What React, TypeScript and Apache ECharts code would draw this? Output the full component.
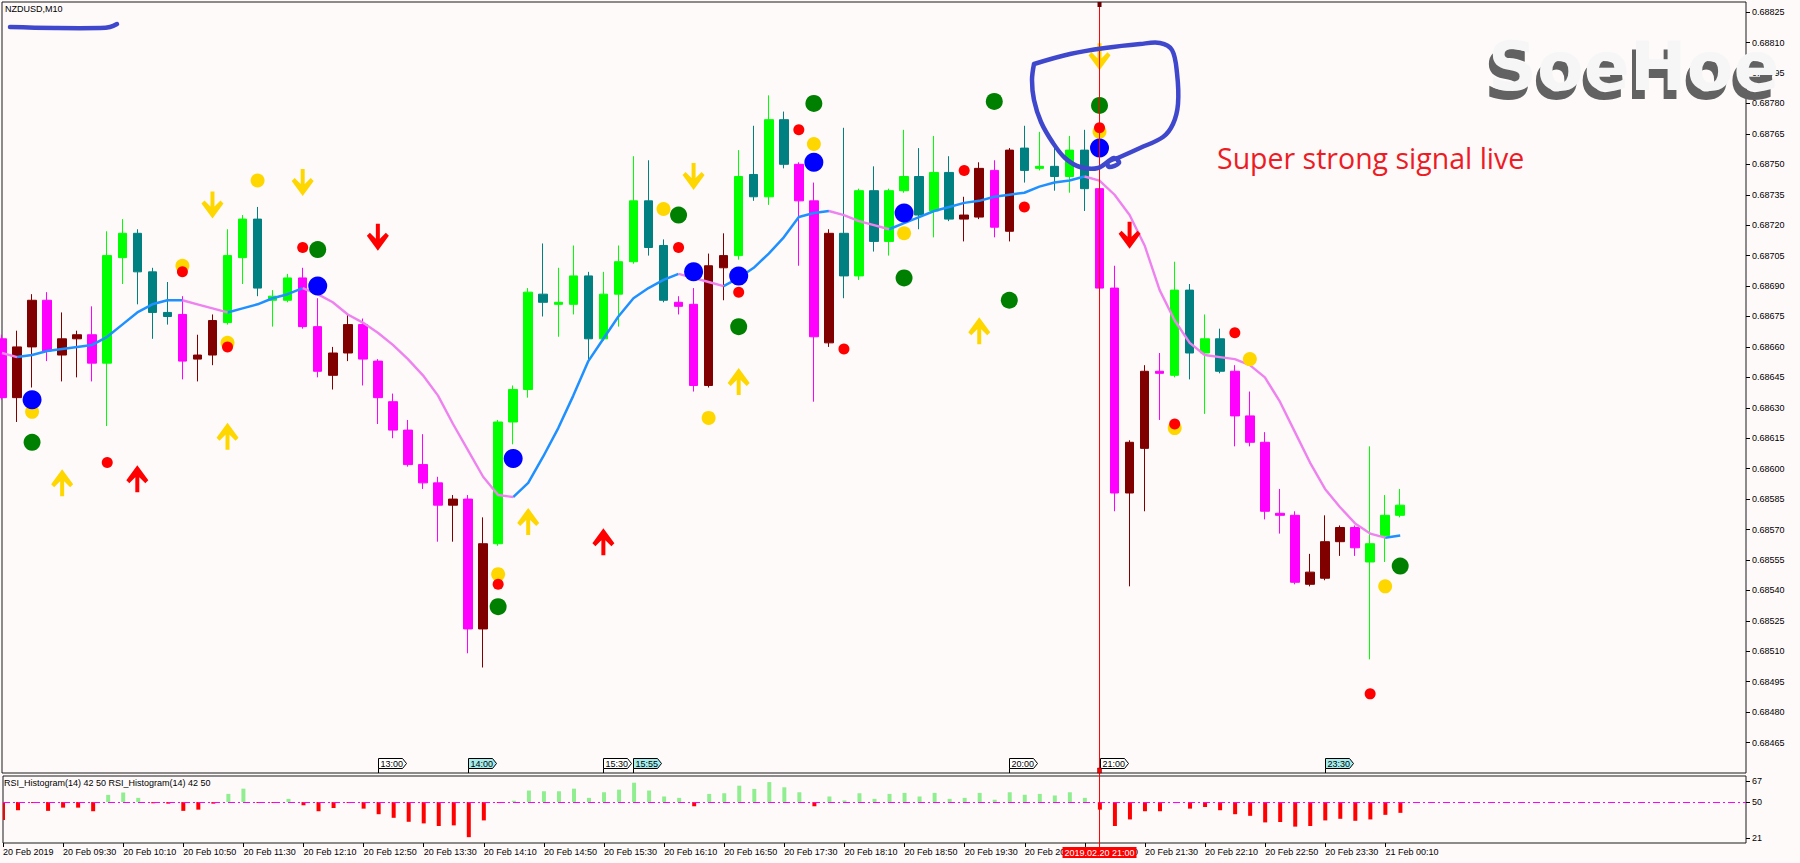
import React, { useEffect, useRef } from "react";
import * as echarts from "echarts";

// ---------- data ----------
const timeLabels = [
  "20 Feb 2019", "20 Feb 09:30", "20 Feb 10:10", "20 Feb 10:50", "20 Feb 11:30", "20 Feb 12:10",
  "20 Feb 12:50", "20 Feb 13:30", "20 Feb 14:10", "20 Feb 14:50", "20 Feb 15:30", "20 Feb 16:10",
  "20 Feb 16:50", "20 Feb 17:30", "20 Feb 18:10", "20 Feb 18:50", "20 Feb 19:30", "20 Feb 20:10",
  "20 Feb 20:50", "20 Feb 21:30", "20 Feb 22:10", "20 Feb 22:50", "20 Feb 23:30", "21 Feb 00:10",
];
const labelBars = [0, 4, 8, 12, 16, 20, 24, 28, 32, 36, 40, 44, 48, 52, 56, 60, 64, 68, 72, 76, 80, 84, 88, 92];

const opens = [
  0.68664, 0.68635, 0.6866, 0.68683, 0.68656, 0.68664, 0.68666, 0.68652, 0.68704, 0.68716,
  0.68697, 0.68677, 0.68676, 0.68654, 0.68656, 0.68672, 0.68704, 0.68723, 0.68683, 0.68683,
  0.68694, 0.6867, 0.68646, 0.68657, 0.68671, 0.68653, 0.68633, 0.68619, 0.68602, 0.68593,
  0.68582, 0.68585, 0.68521, 0.68563, 0.68623, 0.68639, 0.68686, 0.68681, 0.68681, 0.68695,
  0.68664, 0.68686, 0.68702, 0.68732, 0.6871, 0.68682, 0.68681, 0.68641, 0.68699, 0.68705,
  0.68745, 0.68734, 0.68772, 0.6875, 0.68732, 0.68662, 0.68716, 0.68695, 0.68737, 0.68712,
  0.68737, 0.68744, 0.68727, 0.68746, 0.68723, 0.68724, 0.68747, 0.68717, 0.68758, 0.68748,
  0.68749, 0.68744, 0.68757, 0.68738, 0.68689, 0.68588, 0.6861, 0.68648, 0.68646, 0.68688,
  0.68657, 0.68664, 0.68648, 0.68626, 0.68613, 0.68578, 0.68577, 0.68543, 0.68546, 0.68564,
  0.68571, 0.68554, 0.68567, 0.68577,
];
const closes = [
  0.68635, 0.6866, 0.68683, 0.68658, 0.68664, 0.68666, 0.68652, 0.68705, 0.68716, 0.68697,
  0.68677, 0.68675, 0.68653, 0.68656, 0.68673, 0.68705, 0.68723, 0.68689, 0.68685, 0.68694,
  0.6867, 0.68648, 0.68657, 0.68671, 0.68654, 0.68635, 0.68619, 0.68602, 0.68593, 0.68582,
  0.68585, 0.68521, 0.68563, 0.68623, 0.68639, 0.68687, 0.68682, 0.68682, 0.68695, 0.68664,
  0.68686, 0.68702, 0.68732, 0.68709, 0.68683, 0.6868, 0.68641, 0.687, 0.68705, 0.68744,
  0.68734, 0.68772, 0.6875, 0.68732, 0.68665, 0.68716, 0.68695, 0.68737, 0.68712, 0.68737,
  0.68744, 0.68725, 0.68746, 0.68723, 0.68725, 0.68748, 0.68719, 0.68757, 0.68747, 0.68749,
  0.68744, 0.68757, 0.68738, 0.68689, 0.68588, 0.68613, 0.68648, 0.68647, 0.68688, 0.68657,
  0.68664, 0.68648, 0.68626, 0.68613, 0.68579, 0.68577, 0.68544, 0.68549, 0.68564, 0.68571,
  0.68561, 0.68563, 0.68577, 0.68582,
];
const highs = [
  0.68666, 0.68668, 0.68686, 0.68687, 0.68677, 0.68668, 0.6868, 0.68717, 0.68723, 0.68718,
  0.68699, 0.68692, 0.68685, 0.68666, 0.68676, 0.68718, 0.68725, 0.68729, 0.68688, 0.68696,
  0.68699, 0.68684, 0.6866, 0.68676, 0.68674, 0.68654, 0.68637, 0.68624, 0.68617, 0.68596,
  0.68587, 0.68587, 0.68576, 0.68624, 0.68641, 0.68689, 0.68711, 0.68699, 0.6871, 0.68697,
  0.68697, 0.6871, 0.68754, 0.68752, 0.68713, 0.68685, 0.68689, 0.68706, 0.68716, 0.68757,
  0.68769, 0.68784, 0.68776, 0.68751, 0.68741, 0.68718, 0.68768, 0.68738, 0.68749, 0.68738,
  0.68767, 0.68758, 0.68764, 0.68754, 0.68734, 0.68751, 0.68752, 0.68758, 0.68769, 0.68766,
  0.6876, 0.68764, 0.68767, 0.68739, 0.687, 0.68614, 0.68651, 0.68657, 0.68702, 0.68691,
  0.68676, 0.68669, 0.68651, 0.68638, 0.68618, 0.6859, 0.68579, 0.68558, 0.68577, 0.68572,
  0.68572, 0.68611, 0.68587, 0.6859,
];
const lows = [
  0.68634, 0.68623, 0.6864, 0.68653, 0.68643, 0.68645, 0.68643, 0.68621, 0.68691, 0.68681,
  0.68664, 0.68671, 0.68644, 0.68643, 0.68651, 0.68671, 0.68691, 0.68685, 0.6867, 0.68682,
  0.68669, 0.68645, 0.68639, 0.68653, 0.68641, 0.68622, 0.68615, 0.68601, 0.6859, 0.68564,
  0.68564, 0.68509, 0.68502, 0.68562, 0.68612, 0.68635, 0.68675, 0.68665, 0.68676, 0.68653,
  0.68663, 0.6867, 0.68701, 0.68705, 0.68682, 0.68676, 0.68638, 0.6864, 0.68683, 0.68703,
  0.68732, 0.6873, 0.68748, 0.687, 0.68633, 0.6866, 0.68684, 0.68693, 0.68707, 0.68705,
  0.68736, 0.68718, 0.68714, 0.68722, 0.68712, 0.68723, 0.68714, 0.68712, 0.68741, 0.68747,
  0.68737, 0.68736, 0.68727, 0.68687, 0.68579, 0.68542, 0.68579, 0.68624, 0.68645, 0.68644,
  0.68627, 0.68647, 0.68611, 0.68611, 0.68575, 0.68568, 0.68543, 0.68542, 0.68545, 0.68557,
  0.68557, 0.68506, 0.68554, 0.68576,
];
// indicator regime per bar: U = up regime, D = down regime
const trend =
  "DDDDDDDUUU" + "UUDDDUUUUU" + "DDDDDDDDDD" + "DDDUUUUUUU" + "UUUUUDDDDU" +
  "UUUDDDUUUU" + "UUUUDDDDUU" + "UUUDDDDDUU" + "UUDDDDDDDD" + "DUUU";

const maValues = [
  0.68657, 0.68655, 0.68656, 0.68658, 0.68659, 0.6866, 0.68661, 0.68665, 0.68671, 0.68677,
  0.68681, 0.68683, 0.68683, 0.68681, 0.68679, 0.68677, 0.68679, 0.68681, 0.68684, 0.68686,
  0.68689, 0.68686, 0.68682, 0.68676, 0.68672, 0.68667, 0.68661, 0.68654, 0.68646, 0.68636,
  0.68622, 0.68609, 0.68596, 0.68587, 0.68586, 0.68593, 0.68606, 0.6862, 0.68636, 0.68653,
  0.68664, 0.68675, 0.68684, 0.68689, 0.68693, 0.68696, 0.68694, 0.68692, 0.6869, 0.68694,
  0.68699, 0.68706, 0.68714, 0.68724, 0.68726, 0.68727, 0.68725, 0.68722, 0.6872, 0.68718,
  0.68721, 0.68724, 0.68727, 0.68729, 0.68731, 0.68732, 0.68734, 0.68735, 0.68736, 0.68739,
  0.68741, 0.68742, 0.68744, 0.68742, 0.68735, 0.68725, 0.6871, 0.68688, 0.68673, 0.68662,
  0.68656, 0.68655, 0.68654, 0.68651, 0.68645, 0.68633, 0.68618, 0.68603, 0.6859, 0.68581,
  0.68573, 0.68568, 0.68566, 0.68567,
];

const rsiValues = [
  35.5, 43.4, 49.5, 42.9, 45.5, 45.5, 42.6, 55.8, 57.7, 53.4,
  49, 48.7, 42.9, 43.9, 48.7, 56.6, 60.8, 49.5, 49.5, 52.6,
  47.4, 42.6, 45.2, 49.2, 44.7, 40.2, 37.3, 34.1, 32.8, 30.7,
  31.2, 21.7, 35.2, 49.2, 51, 59.3, 58.7, 58.7, 60.8, 53.4,
  57.9, 60, 65.6, 59.3, 54.5, 53.4, 46.6, 56.6, 57.1, 63.2,
  60.6, 66.1, 61.9, 57.9, 46.6, 54.5, 51.3, 57.1, 52.6, 56.6,
  57.4, 54.5, 57.4, 52.6, 53.4, 57.4, 51.9, 57.9, 55.8, 56.6,
  55.3, 57.9, 53.4, 43.9, 30.7, 36, 42.6, 42.6, 49.2, 44.7,
  46, 43.4, 40.2, 38.9, 33.6, 33.9, 30.2, 30.7, 35.2, 36.5,
  34.9, 36, 39.7, 41.3,
];
const rsiLevels = [21, 50, 67];

const goldDots = [[2, 0.68628], [12, 0.687], [15, 0.68662], [17, 0.68742], [33, 0.68548], [44, 0.68728], [47, 0.68625], [54, 0.6876], [60, 0.68716], [73, 0.68766], [78, 0.6862], [83, 0.68654], [92, 0.68542]];
const redDots = [[7, 0.68603], [12, 0.68697], [15, 0.6866], [20, 0.68709], [33, 0.68543], [45, 0.68709], [49, 0.68687], [53, 0.68767], [56, 0.68659], [64, 0.68747], [68, 0.68729], [73, 0.68768], [78, 0.68622], [82, 0.68667], [91, 0.68489]];
const greenDots = [[2, 0.68613], [21, 0.68708], [33, 0.68532], [45, 0.68725], [49, 0.6867], [54, 0.6878], [60, 0.68694], [66, 0.68781], [67, 0.68683], [73, 0.68779], [93, 0.68552]];
const blueDots = [[2, 0.68634], [21, 0.6869], [34, 0.68605], [46, 0.68697], [49, 0.68695], [54, 0.68751], [60, 0.68726], [73, 0.68758]];
const goldUpArrows = [[4, 0.68593], [15, 0.68616], [35, 0.68574], [49, 0.68643], [65, 0.68668]];
const redUpArrows = [[9, 0.68595], [40, 0.68564]];
const goldDownArrows = [[14, 0.6873], [20, 0.68741], [46, 0.68744], [73, 0.68803]];
const redDownArrows = [[25, 0.68714], [75, 0.68715]];

const flagBars = [25, 31, 40, 42, 67, 73, 88];
const flagLabels = ["13:00", "14:00", "15:30", "15:55", "20:00", "21:00", "23:30"];
const flagHighlighted = [false, true, false, true, false, false, true];

const signalBar = 73;
const signalLabel = "2019.02.20 21:00";
const lastPrice = 0.68582;

const PRICE_MIN = 0.6845;
const PRICE_MAX = 0.6883;
const PRICE_STEP = 0.00015;
const RSI_MIN = 17;
const RSI_MAX = 71;
const X_MAX = 116;

// ---------- styles ----------
const BG = "#FFFAFA";
const LIME = "#00FF00";
const TEAL = "#008080";
const MAGENTA = "#FF00FF";
const MAROON = "#800000";
const FONT = "Liberation Sans";
const ARROW_DOWN = "path://M9,0 L13,0 L13,15 L19,9 L22,12 L11,27 L0,12 L3,9 L9,15 Z";
const ARROW_UP = "path://M9,27 L13,27 L13,12 L19,18 L22,15 L11,0 L0,15 L3,18 L9,12 Z";

function candleColor(i: number) {
  const bull = closes[i] >= opens[i];
  if (trend[i] === "U") return bull ? LIME : TEAL;
  return bull ? MAROON : MAGENTA;
}

export default function App() {
  const ref = useRef<HTMLDivElement>(null);

  useEffect(() => {
    if (!ref.current) return;
    const chart = echarts.init(ref.current, null, { renderer: "svg" });
    const n = maValues.length;

    const candles = opens.map((o, i) => {
      const c = candleColor(i);
      return {
        value: [i, o, closes[i], lows[i], highs[i]],
        itemStyle: { color: c, color0: c, borderColor: c, borderColor0: c, borderWidth: 1 },
      };
    });

    const maRise = maValues.map((v, i) => {
      const prev = i > 0 && v >= maValues[i - 1];
      const next = i < n - 1 && maValues[i + 1] >= v;
      return [i, prev || next ? v : null];
    });
    const maFall = maValues.map((v, i) => {
      const prev = i > 0 && v < maValues[i - 1];
      const next = i < n - 1 && maValues[i + 1] < v;
      return [i, prev || next ? v : null];
    });

    const dot = (name: string, data: number[][], color: string, size: number, z: number) => ({
      name, type: "scatter", xAxisIndex: 0, yAxisIndex: 0, data, symbol: "circle", symbolSize: size,
      itemStyle: { color, opacity: 1 }, z, silent: true,
    });
    const arrow = (name: string, data: number[][], color: string, path: string) => ({
      name, type: "scatter", xAxisIndex: 0, yAxisIndex: 0, data, symbol: path, symbolSize: [22, 27],
      itemStyle: { color, opacity: 1 }, z: 4, silent: true,
    });

    const option: any = {
      animation: false,
      backgroundColor: BG,
      grid: [
        { left: 2, top: 2, right: 54, height: 771, show: true, borderColor: "#1a1a1a", borderWidth: 1, backgroundColor: "transparent" },
        { left: 2, top: 776, right: 54, height: 67, show: true, borderColor: "#1a1a1a", borderWidth: 1, backgroundColor: "transparent" },
      ],
      xAxis: [
        { gridIndex: 0, type: "value", min: 0, max: X_MAX, show: false, splitLine: { show: false }, axisLine: { onZero: false } },
        {
          gridIndex: 1, type: "value", min: 0, max: X_MAX,
          axisLine: { show: false, onZero: false },
          splitLine: { show: false },
          axisTick: { show: true, customValues: labelBars, length: 4, lineStyle: { color: "#000" } },
          axisLabel: {
            customValues: labelBars,
            formatter: (v: number) => {
              const k = labelBars.indexOf(Math.round(v));
              return k >= 0 ? timeLabels[k] : "";
            },
            align: "left", margin: 4, fontSize: 9, fontFamily: FONT, color: "#000",
          },
        },
      ],
      yAxis: [
        {
          gridIndex: 0, type: "value", position: "right", min: PRICE_MIN, max: PRICE_MAX, interval: PRICE_STEP,
          axisLine: { show: false, onZero: false },
          splitLine: { show: false },
          axisTick: { show: true, length: 4, lineStyle: { color: "#000" } },
          axisLabel: {
            showMinLabel: false, showMaxLabel: false, margin: 6, fontSize: 9, fontFamily: FONT, color: "#000",
            formatter: (v: number) => v.toFixed(5),
          },
        },
        {
          gridIndex: 1, type: "value", position: "right", min: RSI_MIN, max: RSI_MAX,
          axisLine: { show: false, onZero: false },
          splitLine: { show: false },
          axisTick: { show: true, customValues: rsiLevels, length: 4, lineStyle: { color: "#000" } },
          axisLabel: { customValues: rsiLevels, margin: 6, fontSize: 9, fontFamily: FONT, color: "#000" },
        },
      ],
      series: [
        {
          name: "NZDUSD", type: "candlestick", xAxisIndex: 0, yAxisIndex: 0, data: candles,
          encode: { x: 0, y: [1, 2, 3, 4] }, barWidth: 9, z: 2, silent: true,
          markLine: {
            silent: true, symbol: ["none", "none"], animation: false,
            lineStyle: { color: "#8E9CB4", width: 1, type: "solid" },
            label: {
              show: true, position: "end", distance: 7, formatter: () => lastPrice.toFixed(5),
              backgroundColor: "#7D8DA3", color: "#F4F6FA", padding: [1, 3, 0, 3], fontSize: 9, fontFamily: FONT,
            },
            data: [{ yAxis: lastPrice }],
          },
        },
        { name: "MA up", type: "line", xAxisIndex: 0, yAxisIndex: 0, data: maRise, showSymbol: false, connectNulls: false, lineStyle: { color: "#1E90FF", width: 2.5 }, z: 3, silent: true },
        { name: "MA down", type: "line", xAxisIndex: 0, yAxisIndex: 0, data: maFall, showSymbol: false, connectNulls: false, lineStyle: { color: "#EE82EE", width: 2.4 }, z: 3, silent: true },
        dot("gold", goldDots, "#FFD700", 14, 4),
        dot("red", redDots, "#FF0000", 11, 5),
        dot("green", greenDots, "#008000", 17, 6),
        dot("blue", blueDots, "#0000FF", 19, 7),
        arrow("gold up", goldUpArrows, "#FFD700", ARROW_UP),
        arrow("red up", redUpArrows, "#FF0000", ARROW_UP),
        arrow("gold down", goldDownArrows, "#FFD700", ARROW_DOWN),
        arrow("red down", redDownArrows, "#FF0000", ARROW_DOWN),
        {
          name: "RSI", type: "custom", xAxisIndex: 1, yAxisIndex: 1, clip: true, silent: true,
          data: rsiValues.map((v, i) => [i, v]),
          encode: { x: 0, y: 1 },
          renderItem: (_p: any, api: any) => {
            const i = api.value(0);
            const v = api.value(1);
            const b = api.coord([i, 50]);
            const t = api.coord([i, v]);
            return {
              type: "rect",
              shape: { x: b[0] - 2, y: Math.min(b[1], t[1]), width: 4, height: Math.max(1, Math.abs(t[1] - b[1])) },
              style: { fill: v > 50 ? "#90EE90" : "#FF0000" },
            };
          },
          markLine: {
            silent: true, symbol: ["none", "none"], animation: false,
            lineStyle: { color: "#FF00FF", width: 1, type: [7, 3, 2, 3] },
            label: { show: false },
            data: [{ yAxis: 50 }],
          },
          z: 2,
        },
      ],
    };

    chart.setOption(option);

    const px = (i: number) => chart.convertToPixel({ xAxisIndex: 0 }, i) as number;
    const py = (p: number) => chart.convertToPixel({ yAxisIndex: 0 }, p) as number;
    const mainBottom = py(PRICE_MIN);
    const mainTop = py(PRICE_MAX);
    const rsiBottom = chart.convertToPixel({ yAxisIndex: 1 }, RSI_MIN) as number;
    const xs = px(signalBar);

    const g: any[] = [];
    flagBars.forEach((b, k) => {
      const x = Math.round(px(b)) + 0.5;
      const t = mainBottom - 14.5;
      const bt = mainBottom - 4.5;
      g.push({
        type: "polygon", z: 90,
        shape: { points: [[x, t], [x + 24, t], [x + 28, (t + bt) / 2], [x + 24, bt], [x, bt]] },
        style: { fill: flagHighlighted[k] ? "#A6ECEC" : "#FFFFFF", stroke: "#000", lineWidth: 1 },
      });
      g.push({ type: "line", z: 90, shape: { x1: x, y1: bt, x2: x, y2: mainBottom }, style: { stroke: "#000", lineWidth: 1 } });
      g.push({
        type: "text", z: 91, x: x + 2, y: (t + bt) / 2,
        style: { text: flagLabels[k], fontSize: 9, fontFamily: FONT, fill: "#000", verticalAlign: "middle", align: "left" },
      });
    });

    // signal bar vertical line and time box
    g.push({ type: "line", z: 95, shape: { x1: xs, y1: mainTop, x2: xs, y2: rsiBottom + 4 }, style: { stroke: "#FF0000", lineWidth: 1 } });
    g.push({ type: "rect", z: 96, shape: { x: xs - 2, y: mainTop, width: 4, height: 5 }, style: { fill: "#6A0000" } });
    g.push({ type: "rect", z: 96, shape: { x: xs - 2, y: mainBottom - 5, width: 4, height: 5 }, style: { fill: "#FF0000", stroke: "#600000", lineWidth: 0.5 } });
    g.push({ type: "rect", z: 96, shape: { x: xs - 37, y: rsiBottom + 4, width: 74, height: 11 }, style: { fill: "#FF0000" } });
    g.push({
      type: "text", z: 97, x: xs, y: rsiBottom + 9.5,
      style: { text: signalLabel, fontSize: 9, fontFamily: FONT, fill: "#FFFFFF", align: "center", verticalAlign: "middle" },
    });

    // titles
    g.push({ type: "text", z: 90, x: 5, y: 9, style: { text: "NZDUSD,M10", fontSize: 9, fontFamily: FONT, fill: "#000", verticalAlign: "middle" } });
    g.push({
      type: "text", z: 90, x: 4, y: 783,
      style: { text: "RSI_Histogram(14) 42 50 RSI_Histogram(14) 42 50", fontSize: 9, fontFamily: FONT, fill: "#000", verticalAlign: "middle" },
    });

    // hand-drawn annotations
    g.push({
      type: "polyline", z: 100,
      shape: { points: [[10, 27], [55, 28], [100, 28], [110, 27], [117, 24]], smooth: 0.4 },
      style: { stroke: "#3F48CC", lineWidth: 4.5, lineCap: "round", fill: null },
    });
    g.push({
      type: "polyline", z: 100,
      shape: {
        points: [
          [1034, 64], [1070, 54], [1105, 48], [1140, 44], [1160, 43], [1172, 50], [1177, 73], [1178, 104],
          [1173, 124], [1163, 137], [1140, 148], [1120, 157], [1108, 162], [1109, 167], [1119, 163], [1114, 158],
          [1098, 168], [1080, 167], [1065, 158], [1053, 143], [1041, 122], [1034, 100], [1032, 80], [1034, 64],
        ],
        smooth: 0.35,
      },
      style: { stroke: "#3F48CC", lineWidth: 4.5, lineCap: "round", lineJoin: "round", fill: null },
    });

    g.push({
      type: "text", z: 100, x: 1217, y: 158,
      style: { text: "Super strong signal live", fontSize: 28.5, fontFamily: "Open Sans", fill: "#ED1C24", verticalAlign: "middle" },
    });

    // watermark logo
    g.push({
      type: "text", z: 110, x: 1484, y: 75,
      style: { text: "SoeHoe", fontSize: 68, fontWeight: "bold", fontFamily: "DejaVu Sans", fill: "#626262", verticalAlign: "middle" },
    });
    g.push({
      type: "text", z: 111, x: 1488, y: 66,
      style: { text: "SoeHoe", fontSize: 68, fontWeight: "bold", fontFamily: "DejaVu Sans", fill: "#F6F6F6", verticalAlign: "middle" },
    });

    chart.setOption({ graphic: g });

    return () => chart.dispose();
  }, []);

  return (
    <div
      ref={ref}
      style={{ position: "fixed", left: 0, top: 0, width: 1800, height: 863, background: BG }}
    />
  );
}
